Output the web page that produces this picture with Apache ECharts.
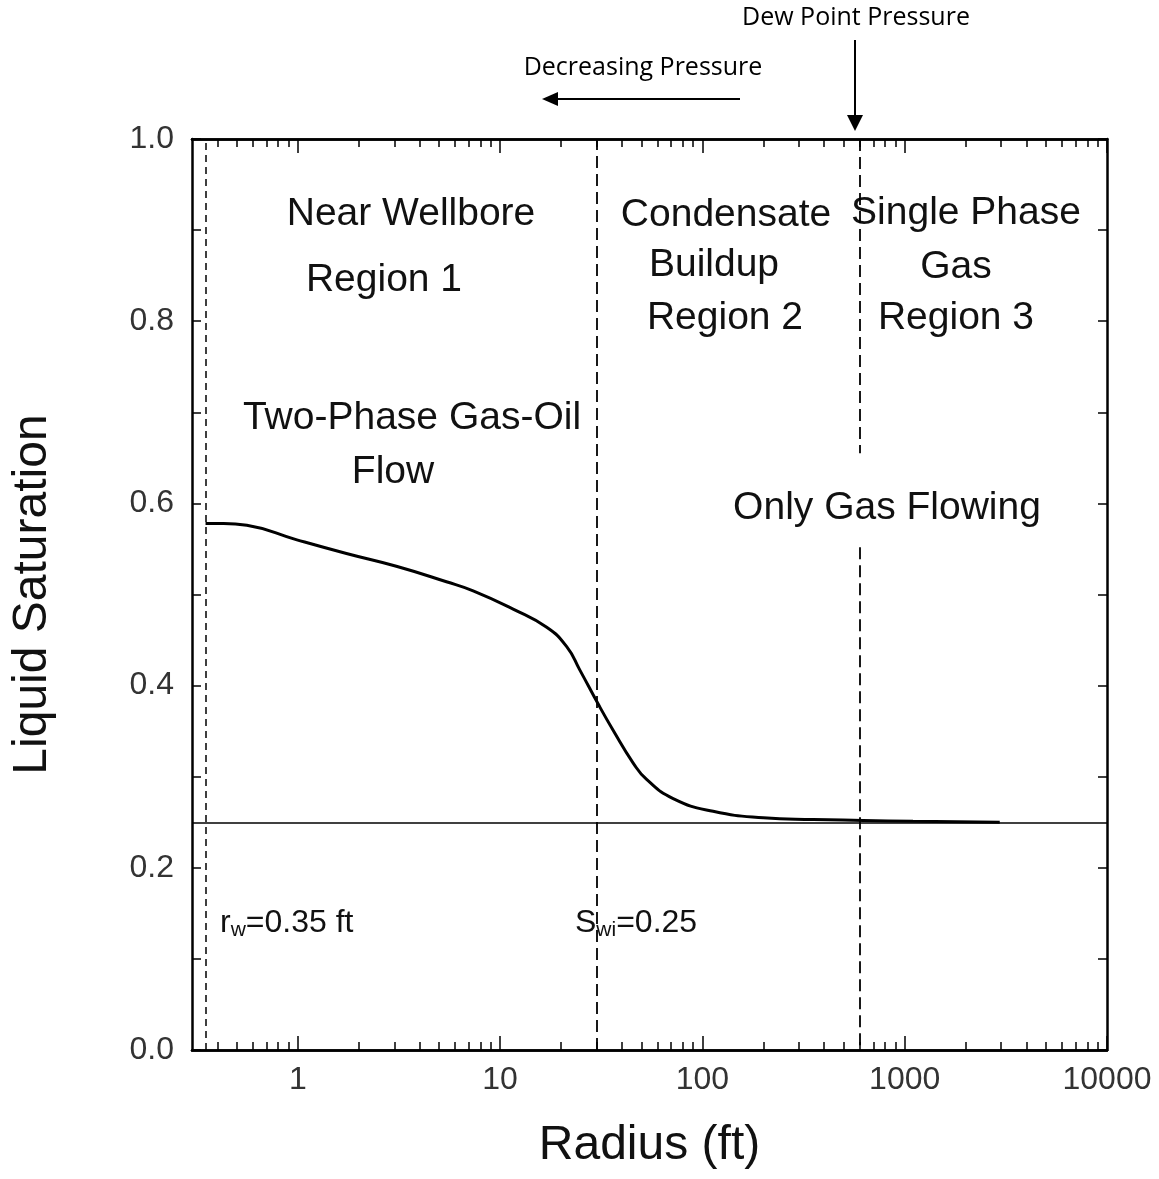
<!DOCTYPE html>
<html>
<head>
<meta charset="utf-8">
<script src="https://cdn.jsdelivr.net/npm/echarts@6/dist/echarts.min.js"></script>
<style>
html,body{margin:0;padding:0;background:#fff;}
#chart{width:1159px;height:1179px;}
</style>
</head>
<body>
<div id="chart"></div>
<script>
// ---- data ----
const radius = [0.35, 0.43, 0.56, 0.99, 1.74, 3.07, 5.43, 7.36, 11.6, 17.0, 21.3, 24.8, 30.5, 36.2, 45.5, 53, 71.7, 113, 200, 353, 624, 1100, 2950];
const saturation = [0.578, 0.578, 0.576, 0.560, 0.545, 0.531, 0.514, 0.504, 0.484, 0.464, 0.443, 0.417, 0.380, 0.351, 0.315, 0.297, 0.276, 0.262, 0.255, 0.253, 0.252, 0.251, 0.250];
const xMajorTicks = [1, 10, 100, 1000, 10000];
const xMinorTicks = [0.4, 0.5, 0.6, 0.7, 0.8, 0.9, 2, 3, 4, 5, 6, 7, 8, 9, 20, 30, 40, 50, 60, 70, 80, 90, 200, 300, 400, 500, 600, 700, 800, 900, 2000, 3000, 4000, 5000, 6000, 7000, 8000, 9000];
const wellRadius = 0.35;
const region2Edge = 30;
const dewPointRadius = 600;
const swi = 0.25;
const dewLineGap = [0.655, 0.552];

const chart = echarts.init(document.getElementById('chart'), null, {renderer: 'canvas'});
const AX = {lineStyle: {color: '#000', width: 2.5}};
const labelFont = {fontFamily: 'Liberation Sans', fontSize: 32, color: '#333'};
const regionFont = 'Liberation Sans';

function xAxisDef(position, ticks, len, showLabel) {
  return {
    type: 'log', logBase: 10, min: 0.3, max: 10000, position: position,
    axisLine: {show: true, onZero: false, lineStyle: AX.lineStyle},
    axisTick: {show: true, inside: true, length: len, customValues: ticks, lineStyle: {color: '#000', width: 1.5}},
    axisLabel: showLabel ? Object.assign({show: true, margin: 14, customValues: ticks, formatter: v => String(v)}, labelFont) : {show: false},
    splitLine: {show: false}, minorTick: {show: false}
  };
}
function yAxisDef(position, showLabel) {
  return {
    type: 'value', min: 0, max: 1, interval: 0.1, position: position,
    axisLine: {show: true, onZero: false, lineStyle: AX.lineStyle},
    axisTick: {show: true, inside: true, length: 9, lineStyle: {color: '#000', width: 1.5}},
    axisLabel: showLabel ? Object.assign({show: true, margin: 18,
      formatter: v => (Math.round(v * 10) % 2 === 0 ? v.toFixed(1) : '')}, labelFont) : {show: false},
    splitLine: {show: false}
  };
}

const xBottom = xAxisDef('bottom', xMajorTicks, 14, true);
xBottom.name = 'Radius (ft)';
xBottom.nameLocation = 'middle';
xBottom.nameGap = 72;
xBottom.nameTextStyle = {fontFamily: 'Liberation Sans', fontSize: 48, color: '#111'};
const yLeft = yAxisDef('left', true);
yLeft.name = 'Liquid Saturation';
yLeft.nameLocation = 'middle';
yLeft.nameGap = 135;
yLeft.nameTextStyle = {fontFamily: 'Liberation Sans', fontSize: 48, color: '#111'};

function txt(text, x, y, size, align) {
  return {type: 'text', x: x, y: y, style: {text: text, fontFamily: regionFont, fontSize: size || 39,
    fill: '#111', textAlign: align || 'center', textVerticalAlign: 'middle'}};
}

const option = {
  animation: false,
  backgroundColor: '#fff',
  grid: {left: 192, right: 52, top: 139, bottom: 129, containLabel: false},
  xAxis: [xBottom, xAxisDef('bottom', xMinorTicks, 8, false),
          xAxisDef('top', xMajorTicks, 14, false), xAxisDef('top', xMinorTicks, 8, false)],
  yAxis: [yLeft, yAxisDef('right', false)],
  series: [{
    type: 'line', xAxisIndex: 0, yAxisIndex: 0,
    data: radius.map((r, i) => [r, saturation[i]]),
    showSymbol: false, smooth: 0.5,
    lineStyle: {color: '#000', width: 3},
    markLine: {
      silent: true, symbol: ['none', 'none'], label: {show: false},
      data: [
        [{coord: [wellRadius, 0], lineStyle: {type: [7, 5], width: 1.5, color: '#000'}}, {coord: [wellRadius, 1]}],
        [{coord: [region2Edge, 0], lineStyle: {type: [12, 6], width: 1.8, color: '#000'}}, {coord: [region2Edge, 1]}],
        [{coord: [dewPointRadius, 1], lineStyle: {type: [12, 6], width: 1.8, color: '#000'}}, {coord: [dewPointRadius, dewLineGap[0]]}],
        [{coord: [dewPointRadius, dewLineGap[1]], lineStyle: {type: [12, 6], width: 1.8, color: '#000'}}, {coord: [dewPointRadius, 0]}],
        [{coord: [0.3, swi], lineStyle: {type: 'solid', width: 1.6, color: '#000'}}, {coord: [10000, swi]}]
      ]
    }
  }],
  graphic: [
    txt('Near Wellbore', 411, 214),
    txt('Region 1', 384, 280),
    txt('Condensate', 726, 215),
    txt('Buildup', 714, 265),
    txt('Region 2', 725, 318),
    txt('Single Phase', 966, 213),
    txt('Gas', 956, 267),
    txt('Region 3', 956, 318),
    txt('Two-Phase Gas-Oil', 412, 418),
    txt('Flow', 393, 472),
    txt('Only Gas Flowing', 887, 508),
    {type: 'text', x: 220, y: 923, style: {
      text: '{a|r}{s|w}{a|=0.35 ft}', textAlign: 'left', textVerticalAlign: 'middle',
      rich: {a: {fontFamily: regionFont, fontSize: 32, fill: '#111'},
             s: {fontFamily: regionFont, fontSize: 21, fill: '#111', verticalAlign: 'bottom', padding: [14, 0, 0, 0]}}}},
    {type: 'text', x: 575, y: 923, style: {
      text: '{a|S}{s|wi}{a|=0.25}', textAlign: 'left', textVerticalAlign: 'middle',
      rich: {a: {fontFamily: regionFont, fontSize: 32, fill: '#111'},
             s: {fontFamily: regionFont, fontSize: 21, fill: '#111', verticalAlign: 'bottom', padding: [14, 0, 0, 0]}}}},
    // top annotations
    {type: 'text', x: 643, y: 68, style: {text: 'Decreasing Pressure', fontFamily: 'Open Sans', fontSize: 25,
      fill: '#000', textAlign: 'center', textVerticalAlign: 'middle'}},
    {type: 'text', x: 856, y: 18, style: {text: 'Dew Point Pressure', fontFamily: 'Open Sans', fontSize: 25,
      fill: '#000', textAlign: 'center', textVerticalAlign: 'middle'}},
    {type: 'line', shape: {x1: 740, y1: 99, x2: 555, y2: 99}, style: {stroke: '#000', lineWidth: 2}},
    {type: 'polygon', shape: {points: [[542, 99], [558, 92], [558, 106]]}, style: {fill: '#000'}},
    {type: 'line', shape: {x1: 855, y1: 40, x2: 855, y2: 118}, style: {stroke: '#000', lineWidth: 2}},
    {type: 'polygon', shape: {points: [[855, 131], [847, 115], [863, 115]]}, style: {fill: '#000'}}
  ]
};
chart.setOption(option);
</script>
</body>
</html>
